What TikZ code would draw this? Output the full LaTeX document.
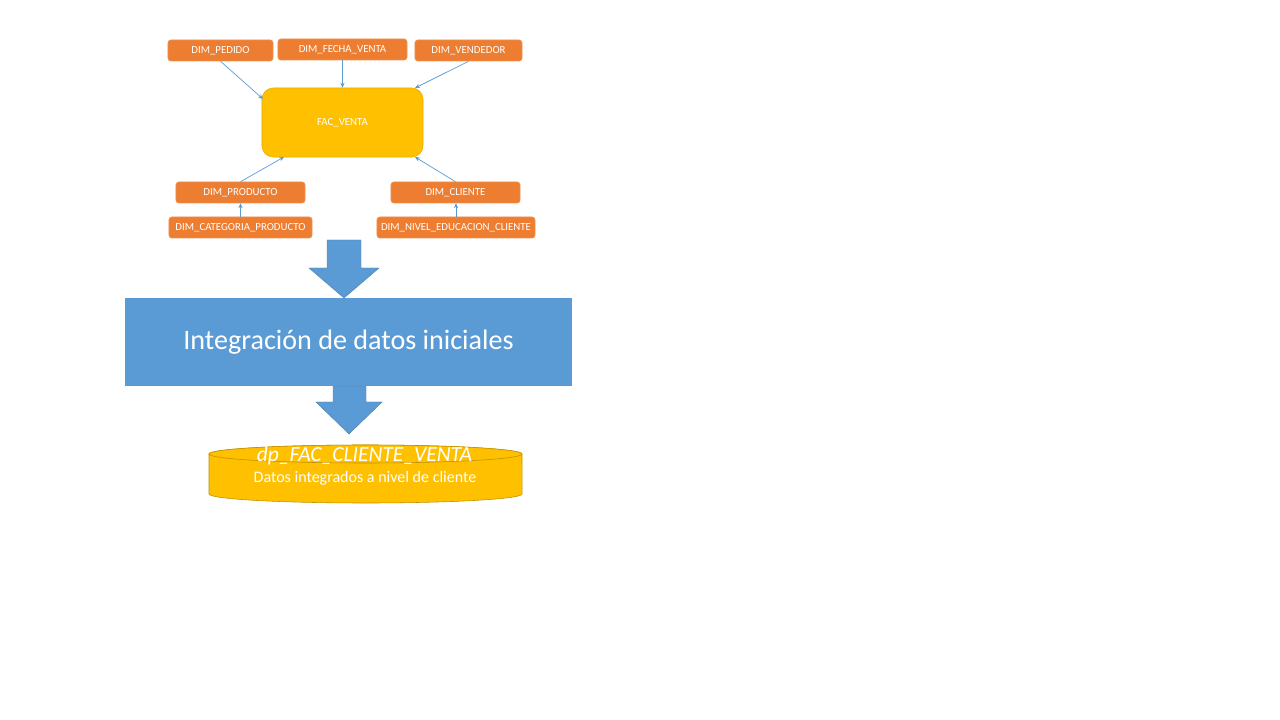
\documentclass[tikz,border=0pt]{standalone}
\usepackage{fontspec}
\setmainfont{Carlito}
\usepackage{tikz}
\usetikzlibrary{arrows.meta}

\definecolor{dimorange}{HTML}{ED7D31}
\definecolor{facyellow}{HTML}{FFC000}
\definecolor{flowblue}{HTML}{5B9BD5}
\definecolor{rimgold}{HTML}{BF9000}

\begin{document}
\begin{tikzpicture}[x=0.025cm, y=-0.025cm,
    dimbox/.style={shape=rectangle, rounded corners=2pt, fill=dimorange, draw=dimorange!85!white,
      text=white, font=\fontsize{7.7}{8}\selectfont, inner sep=0pt, minimum height=0.525cm},
    link/.style={draw=flowblue, line width=0.5pt, -{Stealth[length=3.5pt, width=3pt]}},
    blockarrow/.style={fill=flowblue, draw=flowblue!80!black, line width=0.3pt}]
        \useasboundingbox (0,0) rectangle (1280,720);
        % dimensiones y hecho
        \node[dimbox, minimum width=2.625cm] (pedido) at (220.5,50.5){DIM\_PEDIDO};
        \node[dimbox, minimum width=3.225cm] (fecha) at (342.5,49.5){DIM\_FECHA\_VENTA};
        \node[dimbox, minimum width=2.675cm] (vendedor) at (468.5,50.5){DIM\_VENDEDOR};
        \node[shape=rectangle, rounded corners=8pt, fill=facyellow, draw=facyellow!90!black, text=white,
          font=\fontsize{7.7}{8}\selectfont, minimum width=4.025cm, minimum height=1.725cm] (venta) at (342.5,122.5){FAC\_VENTA};
        \node[dimbox, minimum width=3.225cm] (producto) at (240.5,192.5){DIM\_PRODUCTO};
        \node[dimbox, minimum width=3.225cm] (cliente) at (455.5,192.5){DIM\_CLIENTE};
        \node[dimbox, minimum width=3.575cm] (categoria) at (240.5,227.5){DIM\_CATEGORIA\_PRODUCTO};
        \node[dimbox, minimum width=3.95cm] (nivel) at (456,227.5){DIM\_NIVEL\_EDUCACION\_CLIENTE};
        \coordinate (ventaNW) at (263,99);
        \coordinate (ventaNE) at (415,88);
        \coordinate (ventaSW) at (284,157);
        \coordinate (ventaSE) at (415,157);
        \path[link] (pedido.south) -- (ventaNW);
        \path[link] (fecha.south) -- (fecha.south |- venta.north);
        \path[link] (vendedor.south) -- (ventaNE);
        \path[link] (producto.north) -- (ventaSW);
        \path[link] (cliente.north) -- (ventaSE);
        \path[link] (categoria.north) -- (producto.south);
        \path[link] (nivel.north) -- (nivel.north |- cliente.south);
        % flechas de bloque
        \path[blockarrow] (327,240) -- (361,240) -- (361,268) -- (379,268) -- (344,298) -- (309,268) -- (327,268) -- cycle;
        \node[shape=rectangle, fill=flowblue, text=white, font=\fontsize{20}{22}\selectfont,
          minimum width=11.175cm, minimum height=2.2cm, inner sep=0pt] (integracion) at (348.5,342){Integración de datos iniciales};
        \path[blockarrow] (333,386) -- (366,386) -- (366,402) -- (382,402) -- (349,434) -- (316,402) -- (333,402) -- cycle;
        % cilindro de datos
        \path[fill=facyellow, draw=rimgold, line width=0.4pt] (209,454) -- (209,494)
          arc[start angle=180, end angle=360, x radius=3.9125cm, y radius=0.225cm] -- (522,454)
          arc[start angle=0, end angle=180, x radius=3.9125cm, y radius=0.225cm] -- cycle;
        \path[fill=facyellow, draw=rimgold, line width=0.4pt] (365.5,454) ellipse[x radius=3.9125cm, y radius=0.225cm];
        \node[text=white, font=\fontsize{15.3}{16}\selectfont\itshape, inner sep=0pt] (tabla) at (364.5,456){dp\_FAC\_CLIENTE\_VENTA};
        \node[text=white, font=\fontsize{11.4}{12}\selectfont, inner sep=0pt] (desc) at (365,478){Datos integrados a nivel de cliente};
    \end{tikzpicture}
\end{document}
